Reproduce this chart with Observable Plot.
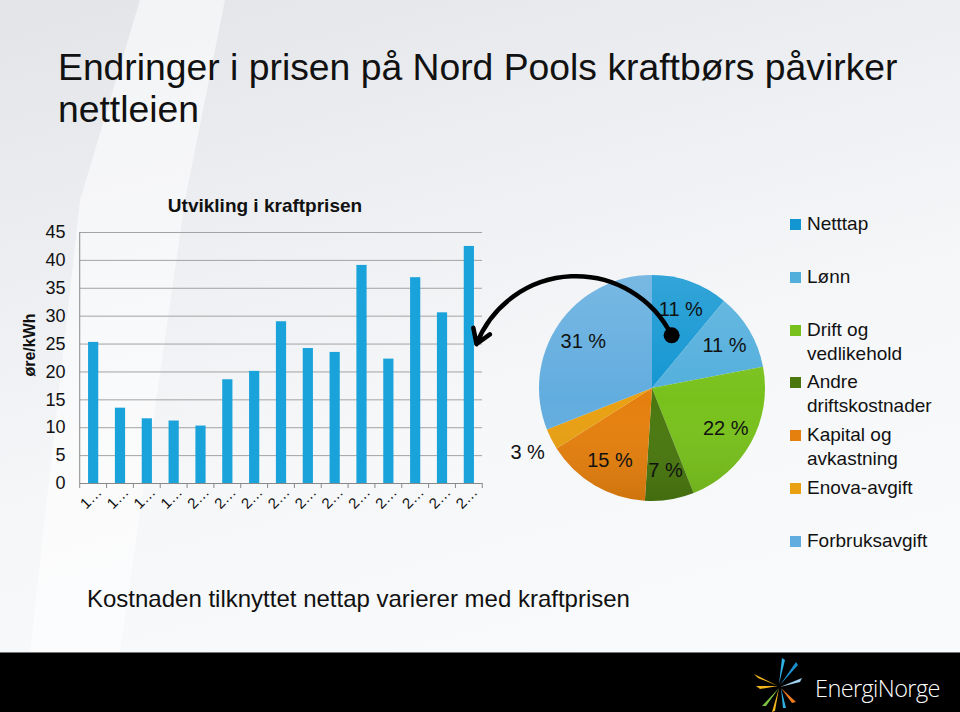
<!DOCTYPE html>
<html>
<head>
<meta charset="utf-8">
<script src="https://cdn.jsdelivr.net/npm/d3@7"></script>
<script src="https://cdn.jsdelivr.net/npm/@observablehq/plot@0.6"></script>
<style>
  html, body { margin: 0; padding: 0; }
  #slide {
    position: relative; width: 960px; height: 712px; overflow: hidden;
    background: linear-gradient(165deg, #e2e4e8 0%, #eceef1 28%, #f6f7f9 55%, #fafbfc 100%);
    font-family: "Liberation Sans", Arial, sans-serif; color: #111;
  }
  #streak {
    position: absolute; left: 0; top: 0; width: 960px; height: 652px;
    background: rgba(255,255,255,0.55);
    clip-path: polygon(140px 0, 225px 0, 185px 200px, 120px 652px, 30px 652px, 80px 200px);
  }
  #title { position: absolute; left: 58px; top: 46px; font-size: 37.3px; line-height: 42px; color: #111; }
  #barTitle { position: absolute; left: 115px; width: 300px; top: 195px; text-align: center; font-weight: bold; font-size: 19px; color: #111; }
  #ylabel { position: absolute; left: 30px; top: 345px; transform: translate(-50%, -50%) rotate(-90deg); font-weight: bold; font-size: 16px; white-space: nowrap; color: #111; }
  .plot { position: absolute; }
  #legend { position: absolute; left: 790px; top: 212px; }
  .item { display: flex; align-items: flex-start; height: 52.8px; }
  .sw { width: 11px; height: 11px; margin-top: 7px; margin-right: 6px; flex: none; }
  .lt { width: 145px; font-size: 19px; line-height: 24px; color: #111; }
  #caption { position: absolute; left: 87px; top: 585px; font-family: "Liberation Sans Narrow", "Arial Narrow", "Liberation Sans", sans-serif; font-size: 24px; color: #111; white-space: nowrap; }
  #band { position: absolute; left: 0; top: 652px; width: 960px; height: 60px; background: #000; border-top: 1px solid #777; box-sizing: border-box; }
  #logoText { position: absolute; left: 815px; top: 672px; font-family: "Open Sans", "DejaVu Sans", sans-serif; font-weight: 300; font-size: 23.5px; color: #fff; letter-spacing: -0.6px; white-space: nowrap; }
  #logoMark { position: absolute; left: 752px; top: 656px; }
</style>
</head>
<body>
<div id="slide">
  <div id="streak"></div>
  <div id="title">Endringer i prisen på Nord Pools kraftbørs påvirker<br>nettleien</div>
  <div id="barTitle">Utvikling i kraftprisen</div>
  <div id="ylabel">øre/kWh</div>
  <div id="barHost" class="plot"></div>
  <div id="pieHost" class="plot"></div>
  <div id="legend"></div>
  <div id="caption">Kostnaden tilknyttet nettap varierer med kraftprisen</div>
  <div id="band"></div>
  <svg id="logoMark" width="56" height="56" viewBox="0 0 56 56">
    <polygon points="26,30 2,18 6,22" fill="#f2b51c"/>
    <polygon points="26,30 4,30 8,33" fill="#f2b51c"/>
    <polygon points="27,28 30,2 33,4" fill="#2eb2e6"/>
    <polygon points="28,29 44,6 46,9" fill="#1a8fd0"/>
    <polygon points="28,31 50,22 48,26" fill="#9fd3f0"/>
    <polygon points="27,32 10,50 14,50" fill="#7cc242"/>
    <polygon points="27,32 20,56 23,55" fill="#f2b51c"/>
    <polygon points="29,32 44,46 40,47" fill="#f07c1e"/>
    <polygon points="29,32 34,52 31,52" fill="#2eb2e6"/>
  </svg>
  <div id="logoText">EnergiNorge</div>
</div>
<script>
// ---------------- data ----------------
const years = [1996, 1997, 1998, 1999, 2000, 2001, 2002, 2003, 2004, 2005, 2006, 2007, 2008, 2009, 2010];
const prices = [25.3, 13.5, 11.6, 11.2, 10.3, 18.6, 20.1, 29.0, 24.2, 23.5, 39.1, 22.3, 36.9, 30.6, 42.5];
const yTicks = [0, 5, 10, 15, 20, 25, 30, 35, 40, 45];
const components = ["Netttap", "Lønn", "Drift og vedlikehold", "Andre driftskostnader", "Kapital og avkastning", "Enova-avgift", "Forbruksavgift"];
const shares = [11, 11, 22, 7, 15, 3, 31];
const componentColors = ["#1296d2", "#52afdc", "#78c11c", "#4a780f", "#e5800e", "#e9a012", "#62addf"];
const arrowFrom = "Netttap";   // the slice the arrow starts in
const arrowToPrice = 25;       // the price level the arrow points at

// ---------------- layout ----------------
const BAR = {left: 0, top: 220, width: 490, height: 313, mt: 12, mr: 8, mb: 50, ml: 80};
const PIE = {left: 460, top: 250, width: 320, height: 270, cx: 192, cy: 138, r: 113};
const font = "'Liberation Sans', Arial, sans-serif";

// ---------------- bar chart ----------------
const barRows = years.map((year, i) => ({year, price: prices[i]}));

function axisLines(index, scales) {
  const x = scales.x, y = scales.y;
  const step = x.step(), bw = x.bandwidth();
  const xs = years.map(yr => x(yr) - (step - bw) / 2);
  xs.push(x(years[years.length - 1]) + bw + (step - bw) / 2);
  const g = d3.create("svg:g").attr("stroke", "#8a8a8a").attr("stroke-width", 1);
  g.selectAll("line.tick").data(xs).join("line").attr("class", "tick")
    .attr("x1", d => d).attr("x2", d => d)
    .attr("y1", y(0)).attr("y2", y(0) + 5);
  g.append("line")
    .attr("x1", xs[0]).attr("x2", xs[0])
    .attr("y1", y(yTicks[yTicks.length - 1])).attr("y2", y(0));
  return g.node();
}

const barChart = Plot.plot({
  width: BAR.width,
  height: BAR.height,
  marginLeft: BAR.ml, marginRight: BAR.mr, marginTop: BAR.mt, marginBottom: BAR.mb,
  style: {background: "transparent", fontFamily: font, fontSize: "16px", color: "#111", overflow: "visible"},
  x: {type: "band", domain: years, paddingInner: 0.62, paddingOuter: 0.3, round: false,
      tickSize: 0, tickRotate: -45, tickPadding: 12, label: null,
      tickFormat: d => String(d)[0] + "…"},
  y: {domain: [0, 45], ticks: yTicks, tickSize: 0, tickPadding: 15, label: null},
  marks: [
    Plot.ruleY(yTicks, {stroke: "#a3a3a3", strokeWidth: 1}),
    Plot.barY(barRows, {x: "year", y: "price", fill: "#1aa3db"}),
    Plot.ruleY([0], {stroke: "#8a8a8a", strokeWidth: 1}),
    axisLines
  ]
});
document.getElementById("barHost").style.left = BAR.left + "px";
document.getElementById("barHost").style.top = BAR.top + "px";
document.getElementById("barHost").appendChild(barChart);
d3.select(barChart).selectAll('g[aria-label^="y-axis"]').style("font-size", "18px");
d3.select(barChart).selectAll('g[aria-label^="y-axis"] text').style("font-size", "18px");
d3.select(barChart).selectAll('g[aria-label^="x-axis"]').style("font-size", "15px");
d3.select(barChart).selectAll('g[aria-label^="x-axis"] text').style("font-size", "15px").attr("dx", 8);

// ---------------- pie chart ----------------
const pieRows = components.map((name, i) => ({name, share: shares[i], color: componentColors[i]}));
const arcs = d3.pie().sort(null).value(d => d.share)(pieRows);
const labelRows = arcs.map(a => {
  const mid = (a.startAngle + a.endAngle) / 2;
  const rr = a.data.share >= 5 ? 0.74 : 1.24;
  return {text: `${a.data.share} %`, x: rr * Math.sin(mid), y: rr * Math.cos(mid)};
});
const fromArc = arcs.find(a => a.data.name === arrowFrom);
const fromMid = (fromArc.startAngle + fromArc.endAngle) / 2;
const dotRow = {x: 0.5 * Math.sin(fromMid), y: 0.5 * Math.cos(fromMid)};
// arrow target: price level on the bar chart, at its right edge (page px -> pie units)
const targetPx = BAR.left + BAR.width - BAR.mr - 6;
const targetPy = BAR.top + barChart.scale("y").apply(arrowToPrice);
const arrowRow = {
  x1: dotRow.x, y1: dotRow.y,
  x2: (targetPx - PIE.left - PIE.cx) / PIE.r,
  y2: (PIE.top + PIE.cy - targetPy) / PIE.r
};

function slices(index, scales) {
  const cx = scales.x(0), cy = scales.y(0), r = scales.x(1) - scales.x(0);
  const g = d3.create("svg:g").attr("transform", `translate(${cx},${cy})`);
  const defs = g.append("defs");
  const lg = defs.append("linearGradient").attr("id", "pieShade").attr("x1", 0).attr("y1", 0).attr("x2", 0).attr("y2", 1);
  lg.append("stop").attr("offset", "0%").attr("stop-color", "#fff").attr("stop-opacity", 0.14);
  lg.append("stop").attr("offset", "55%").attr("stop-color", "#fff").attr("stop-opacity", 0);
  lg.append("stop").attr("offset", "100%").attr("stop-color", "#000").attr("stop-opacity", 0.1);
  const arc = d3.arc().innerRadius(0).outerRadius(r);
  g.selectAll("path.slice").data(arcs).join("path")
    .attr("class", "slice")
    .attr("d", arc)
    .attr("fill", d => d.data.color);
  g.append("circle").attr("r", r).attr("fill", "url(#pieShade)");
  return g.node();
}

const pieChart = Plot.plot({
  width: PIE.width,
  height: PIE.height,
  margin: 0,
  style: {background: "transparent", fontFamily: font, overflow: "visible"},
  x: {domain: [-PIE.cx / PIE.r, (PIE.width - PIE.cx) / PIE.r], axis: null},
  y: {domain: [-(PIE.height - PIE.cy) / PIE.r, PIE.cy / PIE.r], axis: null},
  marks: [
    slices,
    Plot.text(labelRows, {x: "x", y: "y", text: "text", fontSize: 20, fill: "#111"}),
    Plot.arrow([arrowRow], {x1: "x1", y1: "y1", x2: "x2", y2: "y2", bend: -66,
      stroke: "#000", strokeWidth: 4.5, headLength: 5.5, headAngle: 65, strokeLinejoin: "miter"}),
    Plot.dot([dotRow], {x: "x", y: "y", r: 8, fill: "#000"})
  ]
});
const pieHost = document.getElementById("pieHost");
pieHost.style.left = PIE.left + "px";
pieHost.style.top = PIE.top + "px";
pieHost.appendChild(pieChart);

// ---------------- legend ----------------
const legend = d3.select("#legend");
pieRows.forEach(d => {
  const it = legend.append("div").attr("class", "item");
  it.append("div").attr("class", "sw").style("background", d.color);
  it.append("div").attr("class", "lt").text(d.name);
});
</script>
</body>
</html>
